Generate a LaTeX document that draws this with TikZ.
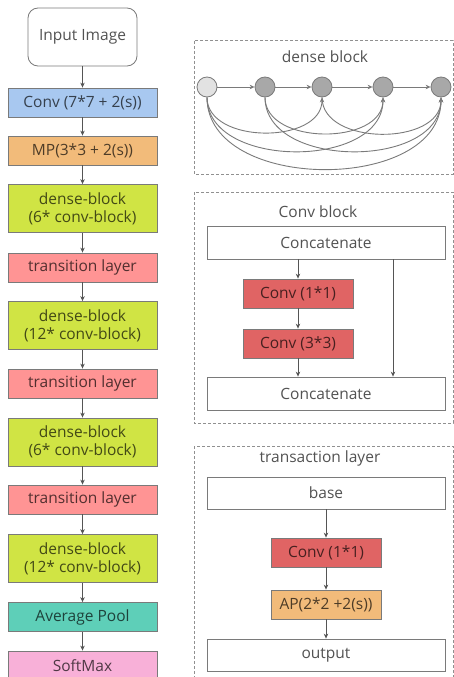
\documentclass[tikz,border=0pt]{standalone}
\usepackage{fontspec}
\setmainfont{Open Sans}
\usetikzlibrary{arrows.meta}
\definecolor{cblue}{HTML}{A8C8F0}
\definecolor{corange}{HTML}{F2BB7A}
\definecolor{cgreen}{HTML}{D0E444}
\definecolor{cpink}{HTML}{FF9494}
\definecolor{cteal}{HTML}{5ECFB8}
\definecolor{csoft}{HTML}{F8B0D8}
\definecolor{cred}{HTML}{E06464}
\definecolor{bordergray}{HTML}{7A7A7A}
\definecolor{arrowgray}{HTML}{555555}
\definecolor{dashgray}{HTML}{909090}
\definecolor{nodelight}{HTML}{E2E2E2}
\definecolor{nodedark}{HTML}{A8A8A8}
\begin{document}
\begin{tikzpicture}[x=1pt,y=-1pt,
  box/.style={draw=bordergray, line width=0.8pt, inner sep=0pt, align=center,
    font=\fontsize{15.5}{18}\selectfont, text=black, text opacity=0.68},
  wide/.style={box, minimum width=149pt, minimum height=29pt},
  wide2/.style={box, minimum width=149pt, minimum height=48pt},
  rbox/.style={box, minimum width=238pt, minimum height=33pt, fill=white},
  sbox/.style={box, minimum width=110pt, minimum height=29pt},
  arr/.style={draw=arrowgray, line width=0.8pt, -{Stealth[length=5pt,width=4.5pt]}},
  dashbox/.style={draw=dashgray, line width=1pt, dash pattern=on 3pt off 2pt},
  ttl/.style={font=\fontsize{15.5}{18}\selectfont, text=black, text opacity=0.68, inner sep=0pt},
  dnode/.style={circle, draw=bordergray, line width=0.8pt, minimum size=20pt, inner sep=0pt, fill=nodedark},
  curve/.style={draw=bordergray, line width=0.9pt, -{Stealth[length=5pt,width=4.5pt]}}
]
\useasboundingbox (0,0) rectangle (454,677);

% left column
\node[box, minimum width=109pt, minimum height=58pt, rounded corners=10pt, fill=white] (input) at (82.5,37) {Input Image};
\node[wide, fill=cblue] (conv7) at (82.5,102.5) {Conv (7*7 + 2(s))};
\node[wide, fill=corange] (mp) at (82.5,150.5) {MP(3*3 + 2(s))};
\node[wide2, fill=cgreen] (db1) at (82.5,208.5) {dense-block\\(6* conv-block)};
\node[wide, fill=cpink] (tl1) at (82.5,267.5) {transition layer};
\node[wide2, fill=cgreen] (db2) at (82.5,325.5) {dense-block\\(12* conv-block)};
\node[wide, fill=cpink] (tl2) at (82.5,383.5) {transition layer};
\node[wide2, fill=cgreen] (db3) at (82.5,442) {dense-block\\(6* conv-block)};
\node[wide, fill=cpink] (tl3) at (82.5,499.5) {transition layer};
\node[wide2, fill=cgreen] (db4) at (82.5,558.5) {dense-block\\(12* conv-block)};
\node[wide, fill=cteal] (avg) at (82.5,617) {Average Pool};
\node[wide, minimum height=30pt, fill=csoft] (soft) at (82.5,666) {SoftMax};

\foreach \a/\b in {input/conv7, conv7/mp, mp/db1, db1/tl1, tl1/db2, db2/tl2, tl2/db3, db3/tl3, tl3/db4, db4/avg, avg/soft}
  \draw[arr] (\a.south) -- (\b.north);

% dense block
\draw[dashbox] (194,41) rectangle (453,174);
\node[ttl] (dbt) at (325,57) {dense block};
\node[dnode, fill=nodelight] (c1) at (207,87) {};
\node[dnode] (c2) at (265,87) {};
\node[dnode] (c3) at (322,87) {};
\node[dnode] (c4) at (383,87) {};
\node[dnode] (c5) at (441,87) {};
\foreach \a/\b in {c1/c2, c2/c3, c3/c4, c4/c5}
  \draw[curve] (\a) -- (\b);
\foreach \a/\b in {c1/c3, c1/c4, c1/c5, c2/c4, c2/c5, c3/c5}
  \draw[curve] (\a.south) to[out=-90, in=-90, looseness=1.05] (\b.south);

% conv block
\draw[dashbox] (194,192) rectangle (453,423);
\node[ttl] (cbt) at (318,212) {Conv block};
\node[rbox] (cat1) at (326,242.5) {Concatenate};
\node[sbox, fill=cred] (cc1) at (298,293.5) {Conv (1*1)};
\node[sbox, fill=cred] (cc2) at (298,343.5) {Conv (3*3)};
\node[rbox] (cat2) at (326,393.5) {Concatenate};
\coordinate (rx) at (393,0);
\draw[arr] (cat1.south -| cc1.north) -- (cc1.north);
\draw[arr] (cc1.south) -- (cc2.north);
\draw[arr] (cc2.south) -- (cat2.north -| cc2.south);
\draw[arr] (cat1.south -| rx) -- (cat2.north -| rx);

% transaction layer
\draw[dashbox] (194,446) rectangle (453,700);
\node[ttl] (tlt) at (320,458) {transaction layer};
\node[rbox, minimum height=32pt] (base) at (326,493) {base};
\node[sbox, fill=cred] (tc) at (326,552.5) {Conv (1*1)};
\node[sbox, fill=corange] (ap) at (326,604.5) {AP(2*2 +2(s))};
\node[rbox, minimum height=32pt] (out) at (326,655) {output};
\draw[arr] (base) -- (tc);
\draw[arr] (tc) -- (ap);
\draw[arr] (ap) -- (out);
\end{tikzpicture}
\end{document}
